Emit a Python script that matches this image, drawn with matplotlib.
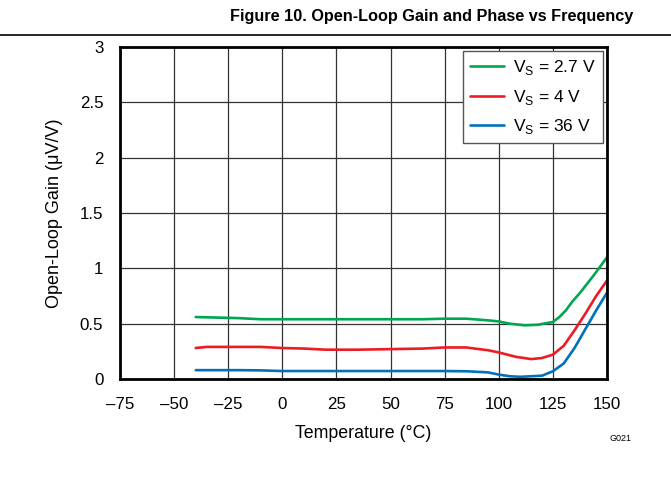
import matplotlib
matplotlib.use("Agg")
import matplotlib.pyplot as plt
from matplotlib.lines import Line2D

plt.rcParams['font.family'] = ['Liberation Sans', 'DejaVu Sans']

green_t = [-40, -30, -20, -10, 0, 25, 50, 65, 75, 85, 95, 100, 105, 112, 118, 125, 128, 131, 134, 137.6, 144, 150]
green_v = [0.56, 0.555, 0.55, 0.54, 0.54, 0.54, 0.54, 0.54, 0.545, 0.545, 0.53, 0.52, 0.50, 0.485, 0.49, 0.515, 0.56, 0.62, 0.70, 0.78, 0.94, 1.10]

red_t = [-40, -35, -25, -10, 0, 10, 20, 35, 50, 65, 75, 85, 95, 100, 108, 115, 120, 125, 130, 135, 140, 145, 150]
red_v = [0.28, 0.29, 0.29, 0.29, 0.28, 0.275, 0.265, 0.265, 0.27, 0.275, 0.285, 0.285, 0.26, 0.24, 0.20, 0.18, 0.19, 0.22, 0.30, 0.44, 0.59, 0.75, 0.89]

blue_t = [-40, -20, -10, 0, 25, 50, 75, 85, 95, 100, 105, 110, 120, 125, 130, 135, 140, 145, 150]
blue_v = [0.08, 0.08, 0.078, 0.072, 0.072, 0.072, 0.072, 0.07, 0.06, 0.04, 0.025, 0.02, 0.03, 0.07, 0.14, 0.28, 0.45, 0.62, 0.78]

labels = [r'V$_\mathregular{S}$ = 2.7 V', r'V$_\mathregular{S}$ = 4 V', r'V$_\mathregular{S}$ = 36 V']
colors = ['#00A651', '#ED1C24', '#0072BC']

x_ticks = [-75, -50, -25, 0, 25, 50, 75, 100, 125, 150]
x_tick_labels = ['\u201375', '\u201350', '\u201325', '0', '25', '50', '75', '100', '125', '150']
y_ticks = [0, 0.5, 1, 1.5, 2, 2.5, 3]
y_tick_labels = ['0', '0.5', '1', '1.5', '2', '2.5', '3']

fig = plt.figure(figsize=(6.71, 4.83), dpi=100)
ax = fig.add_axes([0.1788, 0.2153, 0.7258, 0.6874])

for t, v, c, lab in zip([green_t, red_t, blue_t], [green_v, red_v, blue_v], colors, labels):
    ax.plot(t, v, color=c, lw=1.9, label=lab, solid_capstyle='round')

ax.set_xlim(-75, 150)
ax.set_ylim(0, 3)
ax.set_xticks(x_ticks)
ax.set_xticklabels(x_tick_labels)
ax.set_yticks(y_ticks)
ax.set_yticklabels(y_tick_labels)
ax.tick_params(length=0, labelsize=12.2)
ax.tick_params(axis='y', pad=12)
ax.tick_params(axis='x', pad=13)
ax.grid(True, color='#333333', lw=0.9)
ax.set_axisbelow(True)
for s in ax.spines.values():
    s.set_linewidth(2.0)
    s.set_color('black')

ax.set_xlabel('Temperature (\u00b0C)', fontsize=12.8, labelpad=9)
ax.set_ylabel('Open-Loop Gain (\u03bcV/V)', fontsize=13, labelpad=12)

leg = ax.legend(loc='upper right', fontsize=12.5, frameon=True, fancybox=False,
                edgecolor='#555555', framealpha=1, handlelength=2.0, borderpad=0.4,
                labelspacing=0.6, handletextpad=0.5, borderaxespad=0.25)
leg.get_frame().set_linewidth(1.0)

fig.text(0.644, 0.965, 'Figure 10. Open-Loop Gain and Phase vs Frequency', ha='center', va='center',
         fontsize=11.7, fontweight='bold')
fig.add_artist(Line2D([0, 1], [0.9275, 0.9275], color='black', lw=1.2, transform=fig.transFigure))
fig.text(0.924, 0.093, 'G021', ha='center', va='center', fontsize=6.5)

fig.savefig('out.png', dpi=100)
